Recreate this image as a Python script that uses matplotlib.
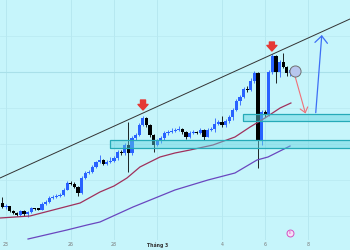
import numpy as np
from matplotlib import pyplot as plt
from matplotlib.patches import Rectangle

# 4h candles, x measured in days from 23 Feb (Mar 1 = day 7)
first_candle = -1
first_open = 47
closes = [43, 44, 39, 37, 35, 39, 36, 38, 42, 41, 40.5, 46, 48, 52, 53, 54, 55, 60, 67, 66,
          63, 57, 72, 77, 78, 83, 88, 90, 86, 88, 89, 92, 98, 97, 105, 97, 112, 115, 125, 132,
          125, 115, 105, 109, 112, 117, 118, 119, 120, 121, 118, 113, 117, 118, 117, 120, 113, 120, 121, 126,
          128, 125, 129, 133, 140, 149, 153, 161, 160, 169, 177, 110, 138, 136, 178, 194, 178, 188, 183, 177,
          180]
highs = [53, 46, 44, 40, 38, 40, 40, 39, 43, 42, 42, 48, 50, 54, 55, 56, 57, 62, 69, 69,
         68, 64, 74, 79, 80, 85, 89, 95, 91, 90, 93, 94, 100, 100, 107, 128, 114, 117, 127, 134,
         133, 126, 116, 111, 114, 119, 120, 122, 122, 124, 122, 119, 119, 120, 119, 122, 121, 122, 123, 132,
         130, 134, 131, 135, 142, 151, 155, 163, 164, 172, 179, 178, 140, 140, 180, 196, 195, 190, 197, 184,
         182]
lows = [42, 41, 38, 36, 34, 34, 34, 33, 37, 40, 40, 40, 45, 47, 51, 52, 53, 54, 60, 65,
        62, 54, 56, 71, 76, 77, 82, 87, 85, 85, 87, 88, 90, 95, 95, 78, 95, 110, 114, 124,
        123, 113, 98, 104, 107, 110, 115, 117, 118, 119, 116, 111, 112, 116, 116, 116, 110, 113, 119, 118,
        125, 123, 123, 127, 130, 139, 145, 152, 158, 159, 167, 82, 105, 133, 134, 176, 167, 173, 182, 174,
        174]

# moving averages (day, value)
ma_fast_days = [-0.28, 1.11, 2.18, 3.43, 4.35, 5.0, 5.6, 6.2, 6.57, 7.13, 7.82, 8.52, 9.58, 10.6, 11.3, 11.99, 12.69, 13.19]
ma_fast = [32, 34, 40, 47, 58, 64, 72, 83, 87, 93, 97, 100, 105, 113, 123, 132, 142, 147]
ma_slow_days = [1.02, 2.82, 3.75, 4.35, 5.88, 7.82, 9.35, 10.6, 11.62, 12.13, 13.15]
ma_slow = [11, 20, 25, 28, 43, 60, 70, 77, 90, 93, 104]

tick_days = [0, 3, 5, 7, 10, 12, 14]
tick_labels = ["23", "26", "28", "Tháng 3", "4", "6", "8"]

bg = "#c6f5fb"
up_col = "#2962ff"
down_col = "#000000"

fig = plt.figure(figsize=(3.5, 2.5), dpi=100, facecolor=bg)
ax = fig.add_axes([0, 0.04, 1, 0.96])
ax.set_facecolor(bg)
ax.set_xlim(-0.278, 15.926)
ax.set_ylim(10, 250)

# grid
for d in tick_days:
    ax.axvline(d, color="#b3e6ee", lw=0.6, zorder=0)
for v in [34, 70, 106, 142, 214]:
    ax.axhline(v, color="#b8e9f0", lw=0.5, zorder=0)
ax.axhline(178, color="#a9e0e9", lw=0.8, zorder=0)

# candles
t = (np.arange(len(closes)) + first_candle) / 6.0
opens = [first_open] + closes[:-1]
for ti, o, h, l, c in zip(t, opens, highs, lows, closes):
    col = up_col if c >= o else down_col
    ax.vlines(ti, l, h, color=col, lw=0.6, zorder=2)
    ax.bar(ti, max(abs(c - o), 1.5), bottom=min(o, c), width=0.14, color=col, zorder=3)

# moving averages
ax.plot(ma_fast_days, ma_fast, color="#a0305c", lw=0.9, zorder=4)
ax.plot(ma_slow_days, ma_slow, color="#6a46bf", lw=0.9, zorder=4)

# support zones
for x0, y0, y1 in [(4.815, 102, 110), (10.97, 129.5, 136)]:
    ax.add_patch(Rectangle((x0, y0), 16 - x0, y1 - y0, facecolor="#5fd3e0", alpha=0.45,
                           edgecolor="none", zorder=5))
    ax.add_patch(Rectangle((x0, y0), 16 - x0, y1 - y0, facecolor="none",
                           edgecolor="#26aab8", lw=0.9, zorder=5))

# trend line
ax.plot([-0.278, 15.926], [72, 231], color="#333333", lw=0.7, zorder=6)

# red markers above the highs
for d, tail, tip in [(6.343, 150, 140), (12.31, 208, 199)]:
    ax.annotate("", xy=(d, tip), xytext=(d, tail),
                arrowprops=dict(arrowstyle="simple,head_length=0.5,head_width=0.9,tail_width=0.45",
                                color="#e53935", mutation_scale=8, shrinkA=0, shrinkB=0), zorder=7)

# projection arrows
ax.annotate("", xy=(13.866, 136.5), xytext=(13.38, 174),
            arrowprops=dict(arrowstyle="->,head_length=0.35,head_width=0.28", color="#f07078",
                            lw=0.8, mutation_scale=10, shrinkA=0, shrinkB=0), zorder=7)
ax.annotate("", xy=(14.62, 215), xytext=(14.34, 137.3),
            arrowprops=dict(arrowstyle="->,head_length=0.5,head_width=0.45", color="#3d6ef5",
                            lw=0.9, mutation_scale=10, shrinkA=0, shrinkB=0), zorder=7)
ax.plot(13.38, 179, marker="o", markersize=8, markerfacecolor="#b7c6ef",
        markeredgecolor="#707070", markeredgewidth=0.7, zorder=8)

# events icon
ax.plot(13.15, 17, marker="o", markersize=5, markerfacecolor="#f4e4f6",
        markeredgecolor="#d64fc2", markeredgewidth=0.7, zorder=8)
ax.text(13.15, 17, "E", fontsize=2.8, color="#d64fc2", ha="center", va="center", zorder=9)

ax.set_xticks(tick_days)
ax.set_xticklabels(tick_labels, fontsize=3.3, color="#777777")
ax.get_xticklabels()[3].set_color("#333333")
ax.get_xticklabels()[3].set_fontweight("bold")
ax.tick_params(axis="x", length=0, pad=1.5)
ax.set_yticks([])
for s in ax.spines.values():
    s.set_visible(False)

fig.savefig("out.png", dpi=100, facecolor=bg)
